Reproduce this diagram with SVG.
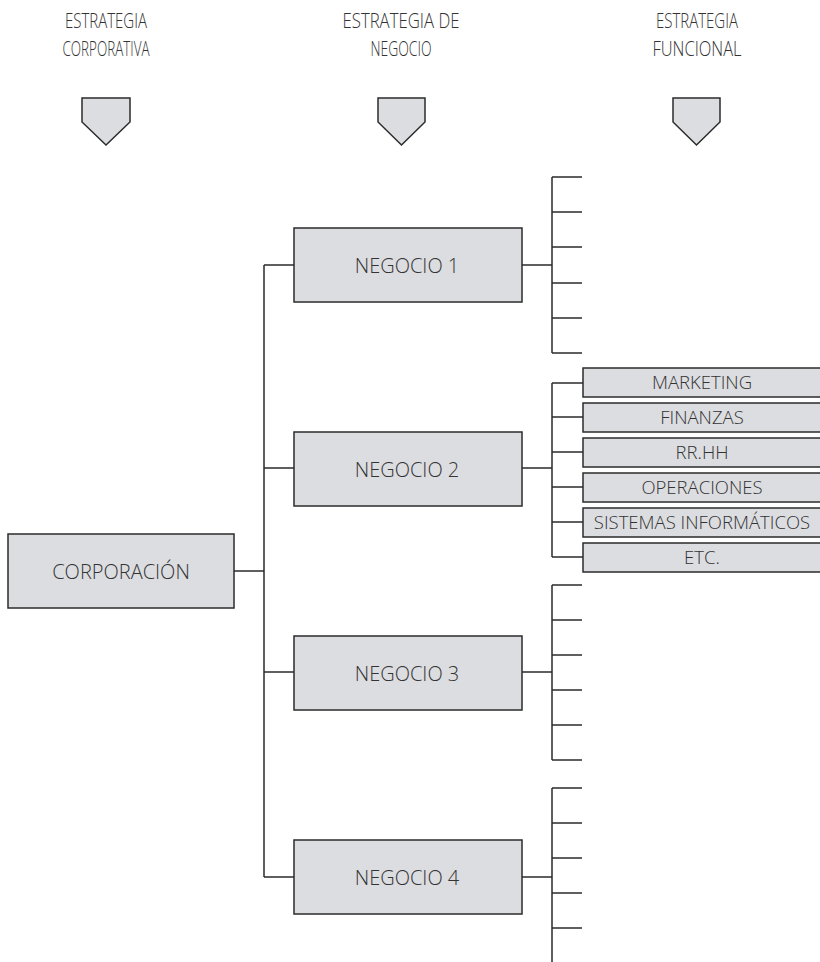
<svg xmlns="http://www.w3.org/2000/svg" width="820" height="962" viewBox="0 0 820 962">
<style>
.box{fill:#dcdde0;stroke:#2b2b2b;stroke-width:1.5}
.t{font-family:"Open Sans","Liberation Sans",sans-serif;font-weight:300;fill:#333;text-anchor:middle}
.big{font-size:20px}
.sm{font-size:18.5px}
.hd{font-size:20px}
.ln{stroke:#2b2b2b;stroke-width:1.5;fill:none}
</style>
<rect width="820" height="962" fill="#fff"/>
<g id="header-corporativa">
<text class="t hd" x="106" y="28" textLength="82" lengthAdjust="spacingAndGlyphs">ESTRATEGIA</text>
<text class="t hd" x="106" y="56" textLength="87" lengthAdjust="spacingAndGlyphs">CORPORATIVA</text>
<polygon class="box" points="82,98 130,98 130,122 106,145 82,122"/>
</g>
<g id="header-negocio">
<text class="t hd" x="401" y="28" textLength="117" lengthAdjust="spacingAndGlyphs">ESTRATEGIA DE</text>
<text class="t hd" x="401" y="56" textLength="61" lengthAdjust="spacingAndGlyphs">NEGOCIO</text>
<polygon class="box" points="378,98 425,98 425,122 401.5,145 378,122"/>
</g>
<g id="header-funcional">
<text class="t hd" x="697" y="28" textLength="82" lengthAdjust="spacingAndGlyphs">ESTRATEGIA</text>
<text class="t hd" x="697" y="56" textLength="89" lengthAdjust="spacingAndGlyphs">FUNCIONAL</text>
<polygon class="box" points="673,98 720,98 720,122 696.5,145 673,122"/>
</g>
<g id="connectors" class="ln">
<path d="M234,571 H264 M264,265 V877 M264,265 H294 M264,468 H294 M264,672 H294 M264,877 H294"/>
<path d="M522,265 H552 M552,177 V353 M552,177 H582 M552,212 H582 M552,247 H582 M552,283 H582 M552,318 H582 M552,353 H582"/>
<path d="M522,468 H552 M552,383 V557 M552,383 H583 M552,417 H583 M552,452 H583 M552,487 H583 M552,522 H583 M552,557 H583"/>
<path d="M522,672 H552 M552,585 V760 M552,585 H582 M552,620 H582 M552,655 H582 M552,690 H582 M552,725 H582 M552,760 H582"/>
<path d="M522,877 H552 M552,788 V962 M552,788 H582 M552,823 H582 M552,858 H582 M552,893 H582 M552,928 H582"/>
</g>
<g id="corporacion">
<rect class="box" x="8" y="534" width="226" height="74"/>
<text class="t big" x="121" y="579">CORPORACIÓN</text>
</g>
<g id="negocio1">
<rect class="box" x="294" y="228" width="228" height="74"/>
<text class="t big" x="407" y="273">NEGOCIO 1</text>
</g>
<g id="negocio2">
<rect class="box" x="294" y="432" width="228" height="74"/>
<text class="t big" x="407" y="477">NEGOCIO 2</text>
</g>
<g id="negocio3">
<rect class="box" x="294" y="636" width="228" height="74"/>
<text class="t big" x="407" y="681">NEGOCIO 3</text>
</g>
<g id="negocio4">
<rect class="box" x="294" y="840" width="228" height="74"/>
<text class="t big" x="407" y="885">NEGOCIO 4</text>
</g>
<g id="marketing">
<rect class="box" x="583" y="368" width="240" height="29"/>
<text class="t sm" x="702" y="389">MARKETING</text>
</g>
<g id="finanzas">
<rect class="box" x="583" y="403" width="240" height="29"/>
<text class="t sm" x="702" y="424">FINANZAS</text>
</g>
<g id="rrhh">
<rect class="box" x="583" y="438" width="240" height="29"/>
<text class="t sm" x="702" y="459">RR.HH</text>
</g>
<g id="operaciones">
<rect class="box" x="583" y="473" width="240" height="29"/>
<text class="t sm" x="702" y="494">OPERACIONES</text>
</g>
<g id="sistemas">
<rect class="box" x="583" y="508" width="240" height="29"/>
<text class="t sm" x="702" y="529">SISTEMAS INFORMÁTICOS</text>
</g>
<g id="etc">
<rect class="box" x="583" y="543" width="240" height="29"/>
<text class="t sm" x="702" y="564">ETC.</text>
</g>
</svg>
